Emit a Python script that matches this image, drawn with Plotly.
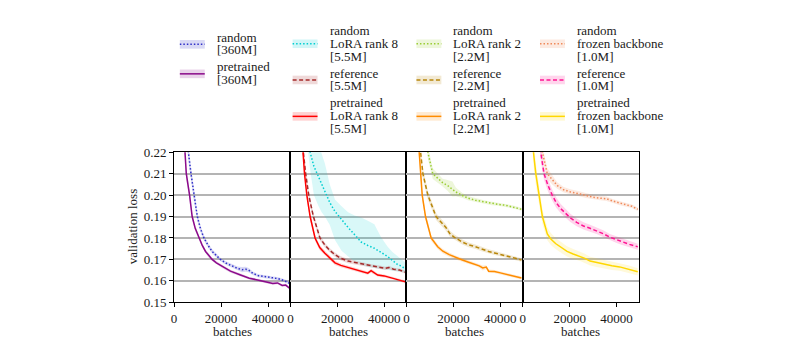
import plotly.graph_objects as go

# ---------------- data ----------------
# panel 1 : full model, 360M parameters
rand360_x = [4000, 6100, 7200, 8400, 9900, 11200, 12700, 14500, 16200, 18000, 19700, 22000, 24600, 27000, 28900,
             30500, 31700, 33500, 35900, 38000, 40100, 42500, 44400, 47000, 49400]
rand360_y = [0.25, 0.22, 0.21, 0.20, 0.19, 0.1845, 0.18, 0.1765, 0.1737, 0.1718, 0.170, 0.1683, 0.1669, 0.1658, 0.1652,
             0.1654, 0.1650, 0.1635, 0.1624, 0.1620, 0.1617, 0.1612, 0.1610, 0.1600, 0.1587]
rand360_s = [0.006, 0.004, 0.003, 0.0025, 0.002, 0.0015, 0.0012, 0.001, 0.001, 0.0009, 0.0008, 0.0008, 0.0008, 0.0009, 0.0012,
             0.0012, 0.001, 0.0008, 0.0007, 0.0007, 0.0007, 0.0007, 0.0007, 0.0007, 0.0007]

pre360_x = [2500, 4500, 5200, 6600, 7700, 9000, 10600, 12000, 13400, 14800, 16200, 18000, 20400, 24000, 28000, 32000,
            36000, 40000, 42000, 44000, 46000, 47500, 49400]
pre360_y = [0.26, 0.22, 0.21, 0.20, 0.19, 0.1845, 0.18, 0.1765, 0.1737, 0.1716, 0.170, 0.1684, 0.1667, 0.1645, 0.1628,
            0.1612, 0.1603, 0.1594, 0.1588, 0.1590, 0.1578, 0.1580, 0.1563]
pre360_s = [0.006, 0.004, 0.003, 0.002, 0.0015, 0.0012, 0.001, 0.0009, 0.0008, 0.0008, 0.0008, 0.0007, 0.0007, 0.0007,
            0.0007, 0.0006, 0.0006, 0.0006, 0.0006, 0.0006, 0.0006, 0.0006, 0.0006]

# panel 2 : LoRA rank 8, 5.5M parameters
randr8_x = [7000, 8400, 10000, 11900, 13300, 14700, 16800, 19000, 21800, 24600, 27400, 30200, 33000, 35800, 38600,
            41400, 43500, 45600, 47500, 49100]
randr8_y = [0.235, 0.22, 0.2135, 0.2088, 0.205, 0.2013, 0.1965, 0.1924, 0.1885, 0.1849, 0.1815, 0.1781, 0.1765, 0.1752,
            0.1733, 0.1714, 0.1695, 0.1677, 0.1668, 0.1654]
randr8_hi = [0.25, 0.24, 0.23, 0.224, 0.2195, 0.2148, 0.205, 0.198, 0.1948, 0.192, 0.1905, 0.1895, 0.188, 0.1864,
             0.1805, 0.176, 0.1735, 0.1715, 0.1698, 0.1684]
randr8_lo = [0.225, 0.212, 0.200, 0.195, 0.192, 0.190, 0.186, 0.179, 0.174, 0.1714, 0.169, 0.1675, 0.1665, 0.166,
             0.1655, 0.165, 0.1646, 0.1642, 0.164, 0.1638]

refr8_x = [4000, 5500, 6500, 7800, 9800, 11000, 12600, 14700, 16800, 19000, 21500, 24600, 28000, 31600, 35000, 38600,
           40500, 42000, 44000, 46500, 49100]
refr8_y = [0.25, 0.22, 0.21, 0.20, 0.19, 0.1855, 0.18, 0.1767, 0.1742, 0.1722, 0.1705, 0.1692, 0.1684, 0.1677, 0.1668,
           0.1662, 0.1658, 0.1662, 0.1654, 0.1650, 0.1640]
refr8_s = [0.005, 0.003, 0.0025, 0.002, 0.0015, 0.0013, 0.0012, 0.0011, 0.001, 0.001, 0.001, 0.001, 0.0009, 0.0009,
           0.0008, 0.0008, 0.0008, 0.0008, 0.0007, 0.0007, 0.0007]

prer8_x = [3500, 5200, 6000, 7000, 8400, 10500, 12500, 14700, 17000, 19000, 21500, 24600, 28000, 31600, 33000, 34400,
           35500, 37200, 40000, 42000, 44200, 46500, 49100]
prer8_y = [0.25, 0.22, 0.21, 0.20, 0.19, 0.18, 0.1755, 0.1729, 0.1705, 0.1684, 0.1672, 0.1662, 0.1650, 0.1640, 0.1636,
           0.1647, 0.1638, 0.1627, 0.1623, 0.1617, 0.1613, 0.1606, 0.1595]
prer8_s = [0.005, 0.003, 0.0025, 0.002, 0.0016, 0.0013, 0.0012, 0.0011, 0.001, 0.001, 0.0009, 0.0009, 0.0008, 0.0008,
           0.0008, 0.0009, 0.0008, 0.0007, 0.0007, 0.0007, 0.0007, 0.0007, 0.0007]

# panel 3 : LoRA rank 2, 2.2M parameters
randr2_x = [7500, 9100, 11200, 13300, 15400, 17500, 19600, 21000, 23800, 26500, 29400, 33000, 36400, 39000, 42000,
            45500, 49000]
randr2_y = [0.235, 0.22, 0.21, 0.2078, 0.2058, 0.2045, 0.2028, 0.2015, 0.1998, 0.1985, 0.1976, 0.1968, 0.1961, 0.1957,
            0.1953, 0.1945, 0.1934]
randr2_s = [0.004, 0.003, 0.0025, 0.002, 0.0018, 0.0025, 0.0035, 0.002, 0.0012, 0.001, 0.0009, 0.0008, 0.0008, 0.0007,
            0.0007, 0.0007, 0.0007]

refr2_x = [4500, 6000, 7000, 9100, 12600, 14500, 16800, 18500, 20300, 23800, 26500, 29400, 32000, 35000, 37500, 40600,
           44000, 46500, 49000]
refr2_y = [0.25, 0.22, 0.21, 0.20, 0.19, 0.1875, 0.1849, 0.1820, 0.1804, 0.1781, 0.1768, 0.1759, 0.1748, 0.1737, 0.1730,
           0.1722, 0.1714, 0.1705, 0.1697]
refr2_s = [0.005, 0.003, 0.0025, 0.002, 0.0016, 0.0016, 0.0015, 0.0014, 0.0013, 0.0012, 0.0011, 0.001, 0.001, 0.001,
           0.001, 0.0009, 0.0009, 0.0008, 0.0008]

prer2_x = [3500, 5300, 6000, 6700, 8100, 10500, 13300, 15500, 18200, 21000, 23800, 26500, 29400, 31000, 32500, 34000,
           35000, 37500, 40000, 43400, 46000, 49000]
prer2_y = [0.25, 0.22, 0.21, 0.20, 0.19, 0.18, 0.1759, 0.1738, 0.1722, 0.1708, 0.1697, 0.1687, 0.1677, 0.1670, 0.1660,
           0.1664, 0.1645, 0.1643, 0.1637, 0.1628, 0.1622, 0.1613]
prer2_s = [0.005, 0.003, 0.0025, 0.002, 0.0016, 0.0013, 0.0011, 0.001, 0.001, 0.0009, 0.0009, 0.0008, 0.0008, 0.0009,
           0.0012, 0.0009, 0.0008, 0.0007, 0.0007, 0.0007, 0.0007, 0.0007]

# panel 4 : frozen backbone, 1.0M parameters
randfz_x = [6000, 8400, 10500, 12600, 14700, 17500, 20300, 24500, 27000, 30100, 33000, 35700, 38500, 41300, 44000,
            46500, 49000]
randfz_y = [0.24, 0.22, 0.21, 0.2070, 0.2045, 0.2025, 0.2015, 0.2005, 0.1998, 0.1990, 0.1986, 0.1983, 0.1972, 0.1962,
            0.1955, 0.1948, 0.1934]
randfz_s = [0.004, 0.003, 0.0025, 0.002, 0.0015, 0.0013, 0.0012, 0.0012, 0.0011, 0.001, 0.001, 0.001, 0.0009, 0.0009,
            0.0009, 0.0008, 0.0008]

reffz_x = [6000, 7700, 9100, 10800, 12600, 14300, 16100, 18200, 20300, 23000, 25900, 28700, 31500, 34300, 37100, 40000,
           42700, 45500, 49000]
reffz_y = [0.24, 0.22, 0.21, 0.2045, 0.20, 0.1965, 0.1938, 0.1915, 0.1894, 0.1873, 0.1856, 0.1845, 0.1834, 0.1820,
           0.1804, 0.1792, 0.1781, 0.1770, 0.1759]
reffz_s = [0.005, 0.004, 0.003, 0.0028, 0.0026, 0.0024, 0.0022, 0.002, 0.0019, 0.0018, 0.0017, 0.0017, 0.0016, 0.0016,
           0.0015, 0.0015, 0.0015, 0.0014, 0.0014]

prefz_x = [3000, 4600, 5600, 7000, 8400, 10500, 12000, 14000, 16500, 18900, 21500, 24500, 26500, 28700, 31500, 34300,
           38000, 41300, 45000, 49000]
prefz_y = [0.26, 0.22, 0.21, 0.20, 0.19, 0.1819, 0.1795, 0.1774, 0.1755, 0.1737, 0.1725, 0.1714, 0.1705, 0.1692, 0.1685,
           0.1677, 0.1670, 0.1665, 0.1655, 0.1642]
prefz_s = [0.008, 0.006, 0.005, 0.004, 0.0035, 0.003, 0.0028, 0.0026, 0.0025, 0.0024, 0.0023, 0.0022, 0.0021, 0.002,
           0.002, 0.002, 0.0019, 0.0018, 0.0018, 0.0017]

x_ticks = [0, 20000, 40000]
y_ticks = [0.15, 0.16, 0.17, 0.18, 0.19, 0.20, 0.21, 0.22]

legend_labels = [
    ["random", "[360M]"], ["pretrained", "[360M]"],
    ["random", "LoRA rank 8", "[5.5M]"], ["reference", "[5.5M]"], ["pretrained", "LoRA rank 8", "[5.5M]"],
    ["random", "LoRA rank 2", "[2.2M]"], ["reference", "[2.2M]"], ["pretrained", "LoRA rank 2", "[2.2M]"],
    ["random", "frozen backbone", "[1.0M]"], ["reference", "[1.0M]"], ["pretrained", "frozen backbone", "[1.0M]"],
]

# ---------------- styles ----------------
DOT = "1.5px,2px"
DASH = "4px,2.5px"
SOLID = "solid"


def rgba(hexcol, a):
    h = hexcol.lstrip("#")
    return "rgba(%d,%d,%d,%.3f)" % (int(h[0:2], 16), int(h[2:4], 16), int(h[4:6], 16), a)


series = [
    # (panel, x, y, lo, hi, color, dash)
    (1, rand360_x, rand360_y, None, rand360_s, "#2f2fc8", DOT),
    (1, pre360_x, pre360_y, None, pre360_s, "#8b0a8b", SOLID),
    (2, randr8_x, randr8_y, randr8_lo, randr8_hi, "#00ced1", DOT),
    (2, refr8_x, refr8_y, None, refr8_s, "#a52a2a", DASH),
    (2, prer8_x, prer8_y, None, prer8_s, "#ff0000", SOLID),
    (3, randr2_x, randr2_y, None, randr2_s, "#9acd32", DOT),
    (3, refr2_x, refr2_y, None, refr2_s, "#b8860b", DASH),
    (3, prer2_x, prer2_y, None, prer2_s, "#ff8c00", SOLID),
    (4, randfz_x, randfz_y, None, randfz_s, "#f08a5a", DOT),
    (4, reffz_x, reffz_y, None, reffz_s, "#ff1493", DASH),
    (4, prefz_x, prefz_y, None, prefz_s, "#ffd700", SOLID),
]
band_alpha = {"#00ced1": 0.15, "#ffd700": 0.15}

W, H = 805, 354
FONT = "Liberation Serif"
TXT = "#1a1a1a"

fig = go.Figure()

# bands first
for panel, xs, ys, lo, hi, col, dash in series:
    if lo is None:
        upper = [y + s for y, s in zip(ys, hi)]
        lower = [y - s for y, s in zip(ys, hi)]
    else:
        upper, lower = hi, lo
    ax = "" if panel == 1 else str(panel)
    fig.add_trace(go.Scatter(
        x=list(xs) + list(xs)[::-1], y=upper + lower[::-1],
        fill="toself", fillcolor=rgba(col, band_alpha.get(col, 0.18)),
        line=dict(width=0), mode="lines", hoverinfo="skip", showlegend=False,
        xaxis="x" + ax, yaxis="y" + ax))

for panel, xs, ys, lo, hi, col, dash in series:
    ax = "" if panel == 1 else str(panel)
    fig.add_trace(go.Scatter(
        x=xs, y=ys, mode="lines", line=dict(color=col, width=1.5, dash=dash),
        showlegend=False, xaxis="x" + ax, yaxis="y" + ax))

# ---------------- axes ----------------
xdoms = [[171.7 / W, 288.5 / W], [288.5 / W, 405.0 / W], [405.0 / W, 521.6 / W], [521.6 / W, 638.3 / W]]
ydom = [(H - 308.3) / H, (H - 151.7) / H]

layout = dict(
    width=W, height=H, margin=dict(l=0, r=0, t=0, b=0),
    paper_bgcolor="white", plot_bgcolor="white",
    font=dict(family=FONT, size=13, color=TXT),
    showlegend=False,
)
for i in range(4):
    k = "" if i == 0 else str(i + 1)
    layout["xaxis" + k] = dict(
        domain=xdoms[i], range=[0, 49500], anchor="y" + k,
        tickvals=x_ticks, ticktext=[str(v) for v in x_ticks],
        ticks="outside", ticklen=4, tickwidth=1, tickcolor="black",
        showline=True, linecolor="black", linewidth=1, mirror=True,
        showgrid=False, zeroline=False, tickfont=dict(size=13, family=FONT, color=TXT))
    layout["yaxis" + k] = dict(
        domain=ydom, range=[0.15, 0.22], anchor="x" + k,
        tickvals=y_ticks, ticktext=["%.2f" % v for v in y_ticks],
        ticks="outside" if i == 0 else "", ticklen=4, tickwidth=1, tickcolor="black",
        showticklabels=(i == 0),
        showline=True, linecolor="black", linewidth=1, mirror=True,
        showgrid=True, gridcolor="#b4b4b4", gridwidth=1.5, zeroline=False,
        tickfont=dict(size=13, family=FONT, color=TXT))
fig.update_layout(**layout)

annotations = []
shapes = []
# axis titles
for i in range(4):
    xc = (xdoms[i][0] + xdoms[i][1]) / 2
    annotations.append(dict(x=xc, y=1 - 339 / H, xref="paper", yref="paper", text="batches",
                            showarrow=False, xanchor="center", yanchor="middle",
                            font=dict(size=13, family=FONT, color=TXT)))
annotations.append(dict(x=129.5 / W, y=1 - 230 / H, xref="paper", yref="paper", text="validation loss",
                        textangle=-90, showarrow=False, xanchor="center", yanchor="middle",
                        font=dict(size=13, family=FONT, color=TXT)))

# ---------------- legend (drawn manually) ----------------
col_sym_x = [177.5, 290.7, 415.0, 539.0]
col_txt_x = [212.7, 326.0, 450.0, 574.0]
rows_c1 = [([31.7, 44.6], 39.0), ([62.3, 75.6], 69.8)]
rows_cn = [([25.0, 38.2, 51.6], 38.4), ([69.3, 82.3], 76.2), ([100.0, 113.3, 126.7], 114.2)]

entry = 0
for c in range(4):
    rows = rows_c1 if c == 0 else rows_cn
    for (lines_y, sym_y) in rows:
        _, _, _, _, _, col, dash = series[entry]
        labels = legend_labels[entry]
        x0 = col_sym_x[c] / W
        x1 = (col_sym_x[c] + 25) / W
        shapes.append(dict(type="rect", xref="paper", yref="paper", x0=x0, x1=x1,
                           y0=1 - (sym_y + 4.5) / H, y1=1 - (sym_y - 4.5) / H,
                           fillcolor=rgba(col, 0.18), line=dict(width=0), layer="above"))
        shapes.append(dict(type="line", xref="paper", yref="paper", x0=x0, x1=x1,
                           y0=1 - sym_y / H, y1=1 - sym_y / H,
                           line=dict(color=col, width=1.5, dash=dash), layer="above"))
        for ly, lab in zip(lines_y, labels):
            annotations.append(dict(x=col_txt_x[c] / W, y=1 - ly / H, xref="paper", yref="paper",
                                    text=lab, showarrow=False, xanchor="left", yanchor="middle",
                                    font=dict(size=13, family=FONT, color=TXT)))
        entry += 1

fig.update_layout(annotations=annotations, shapes=shapes)
fig.write_html("out.html")
